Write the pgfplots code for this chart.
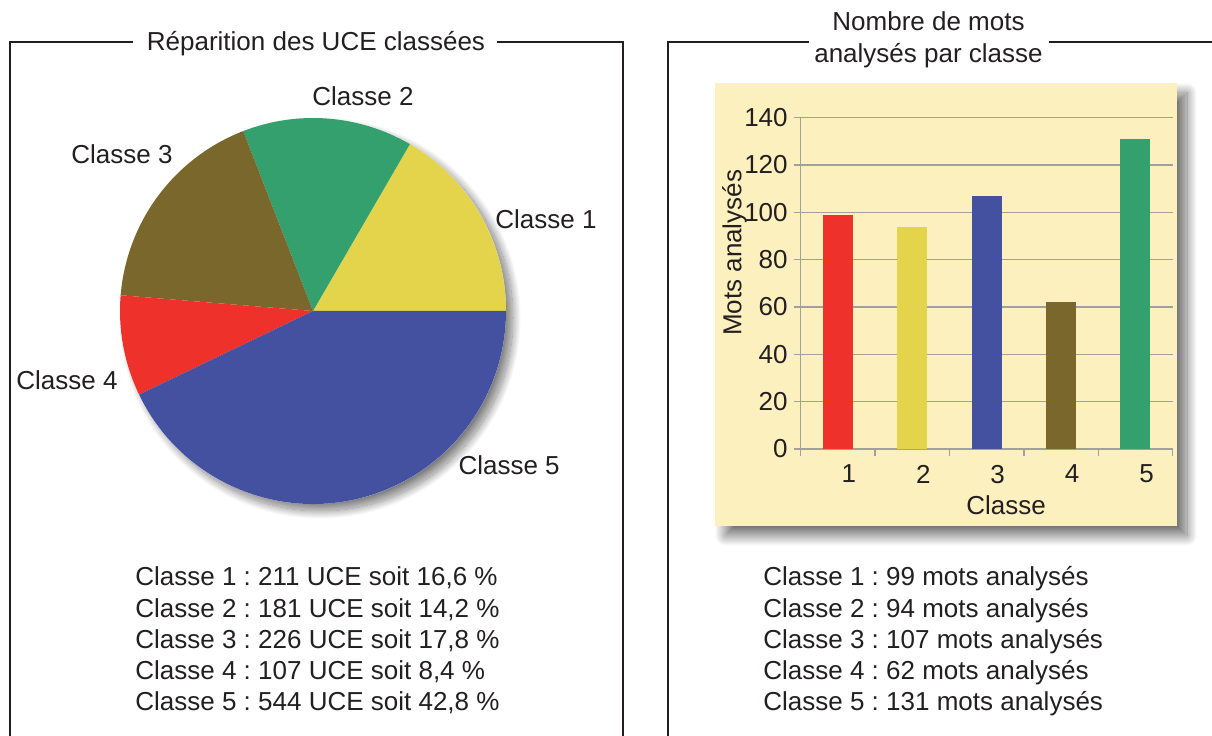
\documentclass[border=0pt]{standalone}
\usepackage{fontspec}
\setmainfont{Liberation Sans}
\usepackage{pgfplots}
\usepackage{pgfplotstable}
\pgfplotsset{compat=1.18}
\usetikzlibrary{shadows.blur}

\definecolor{trait}{HTML}{231F20}
\definecolor{jaune}{HTML}{E4D44B}
\definecolor{vert}{HTML}{33A06D}
\definecolor{olive}{HTML}{7A672C}
\definecolor{rouge}{HTML}{EE312B}
\definecolor{bleu}{HTML}{4451A1}
\definecolor{fond}{HTML}{FDF0BF}
\definecolor{grille}{HTML}{A0A0A0}

% couleurs des parts, dans l'ordre des classes
\colorlet{pie1}{jaune}
\colorlet{pie2}{vert}
\colorlet{pie3}{olive}
\colorlet{pie4}{rouge}
\colorlet{pie5}{bleu}

% UCE classees par classe
\pgfplotstableread{
classe uce
1 211
2 181
3 226
4 107
5 544
}\uce

\begin{document}
\frenchspacing
\fontsize{13}{15.6}\selectfont
\begin{tikzpicture}[text=trait, ligne/.style={anchor=base west, inner sep=0pt}]
\useasboundingbox (0,0) rectangle (606pt,367.5pt);

% --- cadres ---------------------------------------------------------------
\draw[trait, line width=1pt] (66.5pt,346.5pt) -- (5pt,346.5pt) -- (5pt,-2pt);
\draw[trait, line width=1pt] (248.5pt,346.5pt) -- (311.5pt,346.5pt) -- (311.5pt,-2pt);
\draw[trait, line width=1pt] (404.5pt,346.5pt) -- (334pt,346.5pt) -- (334pt,-2pt);
\draw[trait, line width=1pt] (524.5pt,346.5pt) -- (608pt,346.5pt);
\node[anchor=base] at (158pt,342pt) {Réparition des UCE classées};
\node[anchor=base] at (464.25pt,352pt) {Nombre de mots};
\node[anchor=base] at (464.25pt,336pt) {analysés par classe};

% --- camembert ------------------------------------------------------------
\fill[white, blur shadow={shadow xshift=3.5pt, shadow yshift=-3.5pt,
      shadow blur radius=4pt, shadow blur steps=20, shadow opacity=50}]
  (156.5pt,212pt) circle (96.5pt);

\begin{axis}[
  at={(156.5pt,212pt)}, anchor=center,
  scale only axis, width=193pt, height=193pt,
  xmin=-1, xmax=1, ymin=-1, ymax=1,
  hide axis, clip=false,
]
\def\total{0}
\pgfplotsforeachungrouped \i in {0,...,4}{%
  \pgfplotstablegetelem{\i}{uce}\of\uce
  \pgfmathsetmacro\total{\total+\pgfplotsretval}%
}
\def\cum{0}
\pgfplotsforeachungrouped \i in {0,...,4}{%
  \pgfplotstablegetelem{\i}{uce}\of\uce
  \pgfmathsetmacro\a{\cum/\total*360}%
  \pgfmathsetmacro\cum{\cum+\pgfplotsretval}%
  \pgfmathsetmacro\b{\cum/\total*360}%
  \pgfmathtruncatemacro\k{\i+1}%
  \edef\temp{\noexpand\fill[pie\k] (axis cs:0,0) -- (axis cs:{cos(\a)},{sin(\a)})
    arc[start angle=\a, end angle=\b, radius=96.5pt] -- cycle;}%
  \temp
}
\node at (axis cs:1.207,0.477) {Classe 1};
\node at (axis cs:0.259,1.114) {Classe 2};
\node at (axis cs:-0.990,0.813) {Classe 3};
\node at (axis cs:-1.275,-0.358) {Classe 4};
\node at (axis cs:1.016,-0.798) {Classe 5};
\end{axis}

\node[ligne] at (67.5pt,74.5pt) {Classe 1 : 211 UCE soit 16,6 \%};
\node[ligne] at (67.5pt,59pt) {Classe 2 : 181 UCE soit 14,2 \%};
\node[ligne] at (67.5pt,43.5pt) {Classe 3 : 226 UCE soit 17,8 \%};
\node[ligne] at (67.5pt,28pt) {Classe 4 : 107 UCE soit 8,4 \%};
\node[ligne] at (67.5pt,12.5pt) {Classe 5 : 544 UCE soit 42,8 \%};

% --- histogramme ----------------------------------------------------------
\fill[fond, blur shadow={shadow xshift=5pt, shadow yshift=-5pt,
      shadow blur radius=5pt, shadow blur steps=20, shadow opacity=55}]
  (357.5pt,104.5pt) rectangle (588.5pt,326pt);

\begin{axis}[
  at={(400.35pt,143pt)}, anchor=south west,
  scale only axis, width=186pt, height=165.65pt,
  xmin=0.5, xmax=5.5, ymin=0, ymax=140,
  axis lines*=left,
  axis line style={grille, line width=0.75pt},
  xtick={1,2,3,4,5},
  minor xtick={0.5,1.5,2.5,3.5,4.5,5.5},
  ytick={0,20,40,60,80,100,120,140},
  tick align=outside,
  major tick length=3.5pt, minor tick length=3.5pt,
  tick style={grille, line width=0.75pt},
  major x tick style={draw=none},
  ymajorgrids,
  major grid style={grille, line width=0.75pt},
  /pgf/number format/assume math mode=true,
  xticklabel style={xshift=5.5pt},
  yticklabel style={xshift=1.5pt},
  xlabel={Classe}, ylabel={Mots analysés},
  xlabel style={at={(axis description cs:0.552,-0.169)}, anchor=center},
  ylabel style={at={(axis description cs:-0.178,0.592)}, anchor=center},
]
\addplot[ybar, bar width=15pt, bar shift=0pt, fill=rouge, draw=none] coordinates {(1,99)};
\addplot[ybar, bar width=15pt, bar shift=0pt, fill=jaune, draw=none] coordinates {(2,94)};
\addplot[ybar, bar width=15pt, bar shift=0pt, fill=bleu, draw=none] coordinates {(3,107)};
\addplot[ybar, bar width=15pt, bar shift=0pt, fill=olive, draw=none] coordinates {(4,62)};
\addplot[ybar, bar width=15pt, bar shift=0pt, fill=vert, draw=none] coordinates {(5,131)};
\end{axis}

\node[ligne] at (381.5pt,74.5pt) {Classe 1 : 99 mots analysés};
\node[ligne] at (381.5pt,59pt) {Classe 2 : 94 mots analysés};
\node[ligne] at (381.5pt,43.5pt) {Classe 3 : 107 mots analysés};
\node[ligne] at (381.5pt,28pt) {Classe 4 : 62 mots analysés};
\node[ligne] at (381.5pt,12.5pt) {Classe 5 : 131 mots analysés};
\end{tikzpicture}
\end{document}
